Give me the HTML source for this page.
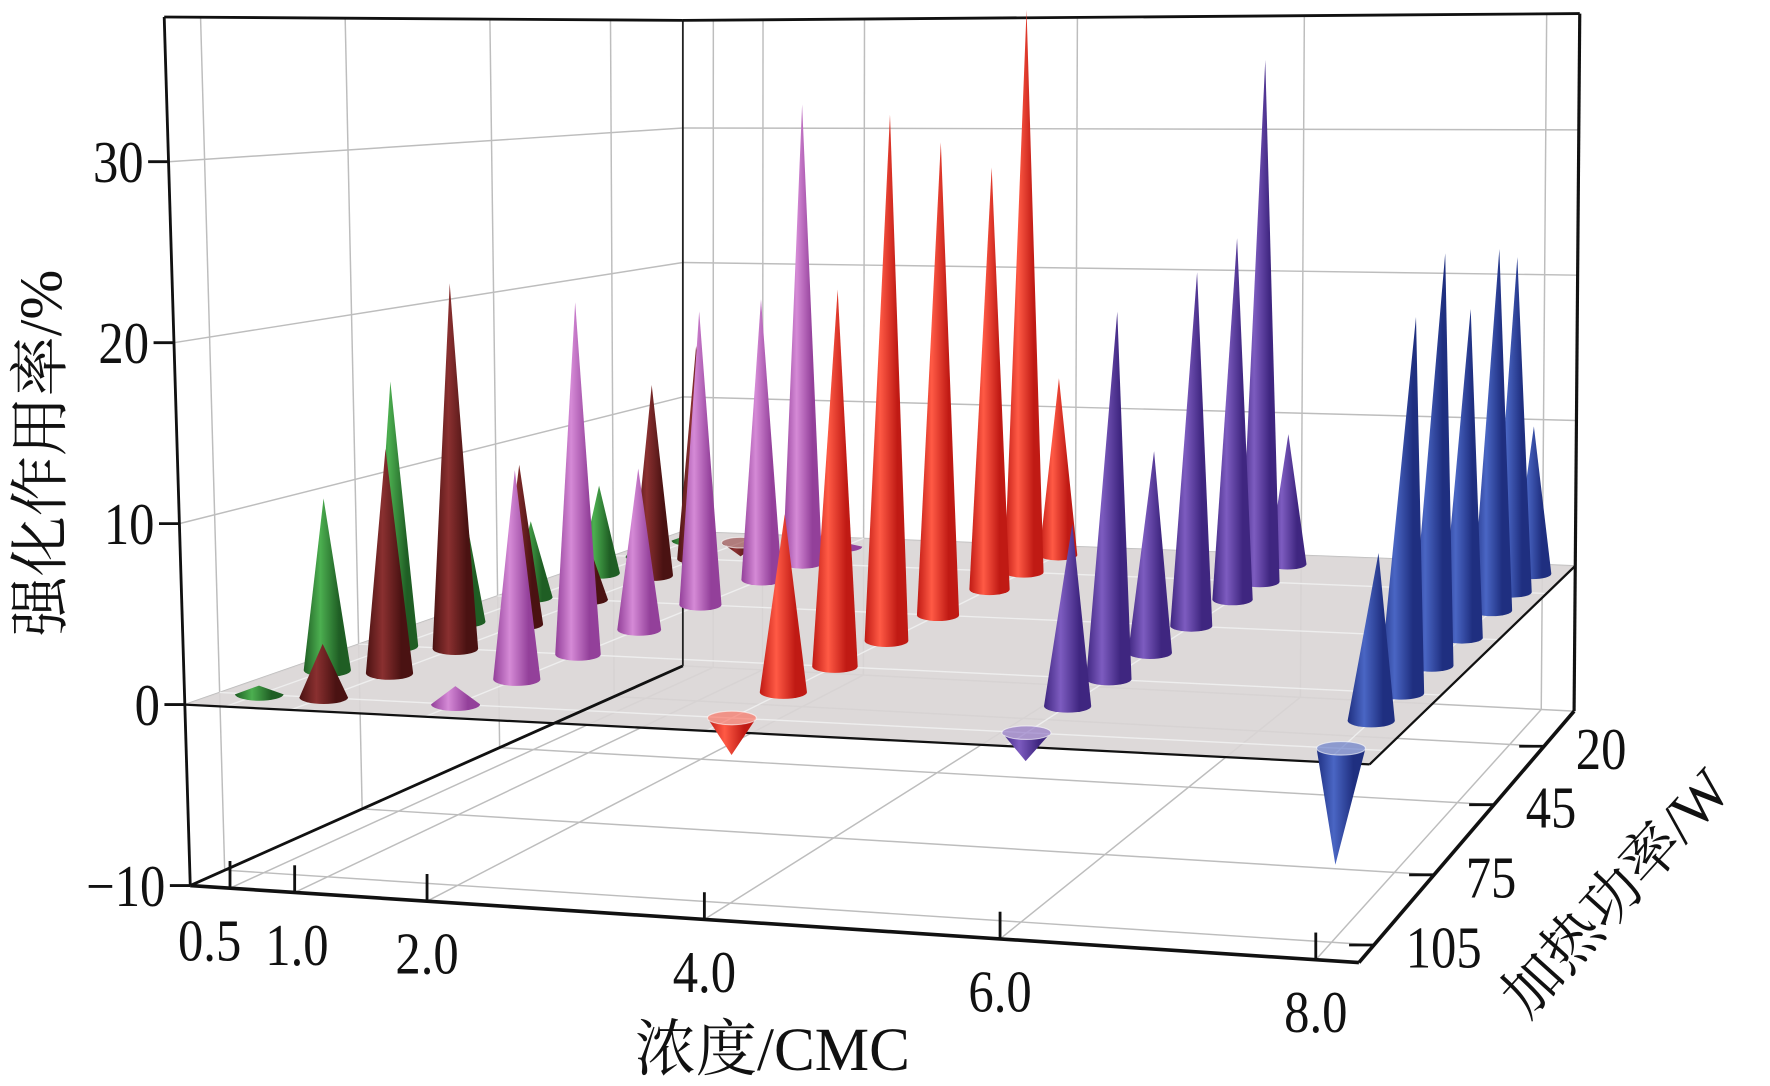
<!DOCTYPE html>
<html><head><meta charset="utf-8"><style>
html,body{margin:0;padding:0;background:#fff;}
svg{display:block;}
text{font-family:"Liberation Serif","Noto Serif CJK SC",serif;fill:#111;}
</style></head><body>
<svg id="chart" width="1770" height="1086" viewBox="0 0 1563 959" preserveAspectRatio="none" xmlns="http://www.w3.org/2000/svg">
<defs id="defs"></defs>
<g id="grid"></g>
<g id="plane"></g>
<g id="box"></g>
<g id="cones"></g>
<g id="labels"></g>
<text transform="translate(54,400) rotate(-90)" text-anchor="middle" font-size="53">强化作用率/%</text>
<text x="682" y="945" text-anchor="middle" font-size="54">浓度/CMC</text>
<text transform="translate(1440,800) rotate(-48)" text-anchor="middle" font-size="52">加热功率/W</text>
</svg>
<script>
// ---- data ----
const concentrations = [0.5, 1.0, 2.0, 4.0, 6.0, 8.0];
const powers = [105, 90, 75, 60, 45, 30, 20, 10];
const seriesC05 = [0.5, 10, 16, 8, 5, 6, 2, 0.5];
const seriesC10 = [3, 13, 22, 10, 4, 13, 15, -1];
const seriesC20 = [1, 12, 21, 10, 19, 19, 32, 0.3];
const seriesC40 = [-2, 10, 22, 32, 30, 28, 38.5, 12.5];
const seriesC60 = [-1.5, 10, 21, 12, 22, 23.5, 35, 9];
const seriesC80 = [-6, 9, 21, 24, 20, 23, 22, 10];
const zTicks = [-10, 0, 10, 20, 30];
const xTickLabels = ["0.5", "1.0", "2.0", "4.0", "6.0", "8.0"];
const powerTicks = [20, 45, 75, 105];

const allSeries = [seriesC05, seriesC10, seriesC20, seriesC40, seriesC60, seriesC80];
const colors = [["#1f5e24","#4caf50"],["#4a1212","#8a3030"],["#93409a","#d58ad6"],["#c01a14","#ff5a45"],["#3f2680","#7d5cc0"],["#1f2f80","#4a66c4"]];

// ---- projection (box geometry) ----
const ZMIN = -10, ZTOP = 38;
const FL = {b:[168,782], t:[145,15]}, FR = {b:[1200,850], t:[1245,10]};
const BL = {b:[603,588], t:[603,18]}, BR = {b:[1390,628], t:[1395,12]};
function cz(c, z){ const t=(z-ZMIN)/(ZTOP-ZMIN); return [c.b[0]+(c.t[0]-c.b[0])*t, c.b[1]+(c.t[1]-c.b[1])*t]; }
function P(u, v, z){
  const fl=cz(FL,z), fr=cz(FR,z), bl=cz(BL,z), br=cz(BR,z);
  const f=[fl[0]+(fr[0]-fl[0])*u, fl[1]+(fr[1]-fl[1])*u];
  const b=[bl[0]+(br[0]-bl[0])*u, bl[1]+(br[1]-bl[1])*u];
  return [f[0]+(b[0]-f[0])*v, f[1]+(b[1]-f[1])*v];
}
function g(c){ return c/(1-0.015*c); }
function uScale(c){ return 0.034 + 0.1082*(g(c)-g(0.5)); }
function vScale(p){ return 0.07 + (105-p)*0.0093; }

const NS = "http://www.w3.org/2000/svg";
function mk(tag, attrs, parent){ const e=document.createElementNS(NS,tag); for(const k in attrs) e.setAttribute(k, attrs[k]); parent.appendChild(e); return e; }
function line(a, b, parent, stroke, w, name){
  const e = mk("line", {x1:a[0].toFixed(1), y1:a[1].toFixed(1), x2:b[0].toFixed(1), y2:b[1].toFixed(1), stroke:stroke, "stroke-width":w}, parent);
  
  
  return e;
}
function label(x, y, anchor, str, parent, name){
  const t = mk("text", {transform:`translate(${x.toFixed(1)},${y.toFixed(1)}) scale(0.86,1)`, "text-anchor":anchor, "font-size":"52"}, parent);
  t.textContent = str;
  
  
  return t;
}

const grid = document.getElementById("grid");
const GC = "#bdbdbd";
concentrations.forEach(c=>{ line(P(uScale(c),0,ZMIN), P(uScale(c),1,ZMIN), grid, GC, 1.3, "floor-grid-line"); });
powerTicks.forEach(p=>{ line(P(0,vScale(p),ZMIN), P(1,vScale(p),ZMIN), grid, GC, 1.3, "floor-grid-line"); });
powerTicks.forEach(p=>{ line(P(0,vScale(p),ZMIN), P(0,vScale(p),ZTOP), grid, GC, 1.3, "left-wall-grid-line"); });
zTicks.forEach(z=>{ line(P(0,0,z), P(0,1,z), grid, GC, 1.3, "left-wall-grid-line"); });
concentrations.forEach(c=>{ line(P(uScale(c),1,ZMIN), P(uScale(c),1,ZTOP), grid, GC, 1.3, "back-wall-grid-line"); });
zTicks.forEach(z=>{ line(P(0,1,z), P(1,1,z), grid, GC, 1.3, "back-wall-grid-line"); });

const plane = document.getElementById("plane");
const pc = [P(0,0,0),P(1,0,0),P(1,1,0),P(0,1,0)];
const poly = mk("polygon", {points: pc.map(p=>p.join(",")).join(" "), fill:"#d9d5d5", "fill-opacity":"0.9"}, plane);


concentrations.forEach(c=>{ line(P(uScale(c),0,0), P(uScale(c),1,0), plane, "#eeeeee", 1.2, "zero-plane-grid-line"); });
powerTicks.forEach(p=>{ line(P(0,vScale(p),0), P(1,vScale(p),0), plane, "#eeeeee", 1.2, "zero-plane-grid-line"); });

const box = document.getElementById("box");
line(P(0,0,0), P(1,0,0), box, "#111", 2, "zero-plane-front-edge");
line(P(1,0,0), P(1,1,0), box, "#111", 2, "zero-plane-right-edge");
line(P(0,0,ZMIN), P(1,0,ZMIN), box, "#111", 3.2, "x-axis-line");
line(P(1,0,ZMIN), P(1,1,ZMIN), box, "#111", 3.2, "y-axis-line");
line(P(0,0,ZMIN), P(0,1,ZMIN), box, "#111", 2.5, "floor-left-edge");
line(P(0,0,ZMIN), P(0,0,ZTOP), box, "#111", 2.5, "z-axis-line");
line(P(0,1,ZMIN), P(0,1,ZTOP), box, "#222", 1.6, "back-left-edge");
line(P(1,1,ZMIN), P(1,1,ZTOP), box, "#111", 2.8, "back-right-edge");
line(P(0,0,ZTOP), P(0,1,ZTOP), box, "#111", 2.5, "top-left-edge");
line(P(0,1,ZTOP), P(1,1,ZTOP), box, "#111", 2.5, "top-back-edge");

const labels = document.getElementById("labels");
zTicks.forEach(z=>{
  const p = P(0,0,z);
  line([p[0]-18,p[1]], p, labels, "#111", 2.5, "z-tick");
  label(p[0]-22, p[1]+18, "end", z<0 ? "\u2212"+Math.abs(z) : String(z), labels, "z-tick-label");
});
concentrations.forEach((c,i)=>{
  const p = P(uScale(c),0,ZMIN);
  line(p, [p[0],p[1]-24], labels, "#111", 2.5, "x-tick");
  label(p[0]+(i===0?-18:(i===1?2:0)), p[1]+64, "middle", xTickLabels[i], labels, "x-tick-label");
});
powerTicks.forEach(pw=>{
  const p = P(1,vScale(pw),ZMIN);
  line([p[0]-22,p[1]], p, labels, "#111", 2.5, "y-tick");
  label(p[0]+28, p[1]+20, "start", String(pw), labels, "y-tick-label");
});

const defs = document.getElementById("defs");
colors.forEach((col,i)=>{
  const lg = mk("linearGradient", {id:"g"+i, x1:"0", y1:"0", x2:"1", y2:"0"}, defs);
  mk("stop", {offset:"0", "stop-color":col[0]}, lg);
  mk("stop", {offset:"0.35", "stop-color":col[1]}, lg);
  mk("stop", {offset:"0.75", "stop-color":col[0]}, lg);
  mk("stop", {offset:"1", "stop-color":col[0]}, lg);
});

const cones = document.getElementById("cones");
const items = [];
concentrations.forEach((c,i)=>{ powers.forEach((p,j)=>{ items.push({i:i, u:uScale(c), v:vScale(p), val:allSeries[i][j]}); }); });
items.sort((a,b)=> (b.v-a.v) || (a.u-b.u));
items.forEach(it=>{
  const B = P(it.u, it.v, 0), T = P(it.u, it.v, it.val);
  const L = P(it.u-0.021, it.v, 0), R = P(it.u+0.021, it.v, 0);
  const rx = (R[0]-L[0])/2, ry = rx*0.28;
  const g = mk("g", {}, cones);
  
  
  const d = `M${(B[0]-rx).toFixed(1)},${B[1].toFixed(1)} L${T[0].toFixed(1)},${T[1].toFixed(1)} L${(B[0]+rx).toFixed(1)},${B[1].toFixed(1)} A${rx.toFixed(1)},${ry.toFixed(1)} 0 0 1 ${(B[0]-rx).toFixed(1)},${B[1].toFixed(1)} Z`;
  mk("path", {d:d, fill:"url(#g"+it.i+")"}, g);
  if (it.val < 0) {
    mk("ellipse", {cx:B[0].toFixed(1), cy:B[1].toFixed(1), rx:rx.toFixed(1), ry:ry.toFixed(1), fill:colors[it.i][1], "fill-opacity":"0.55", stroke:"#ffffff", "stroke-opacity":"0.6", "stroke-width":"1"}, g);
  }
});
</script>
</body></html>
